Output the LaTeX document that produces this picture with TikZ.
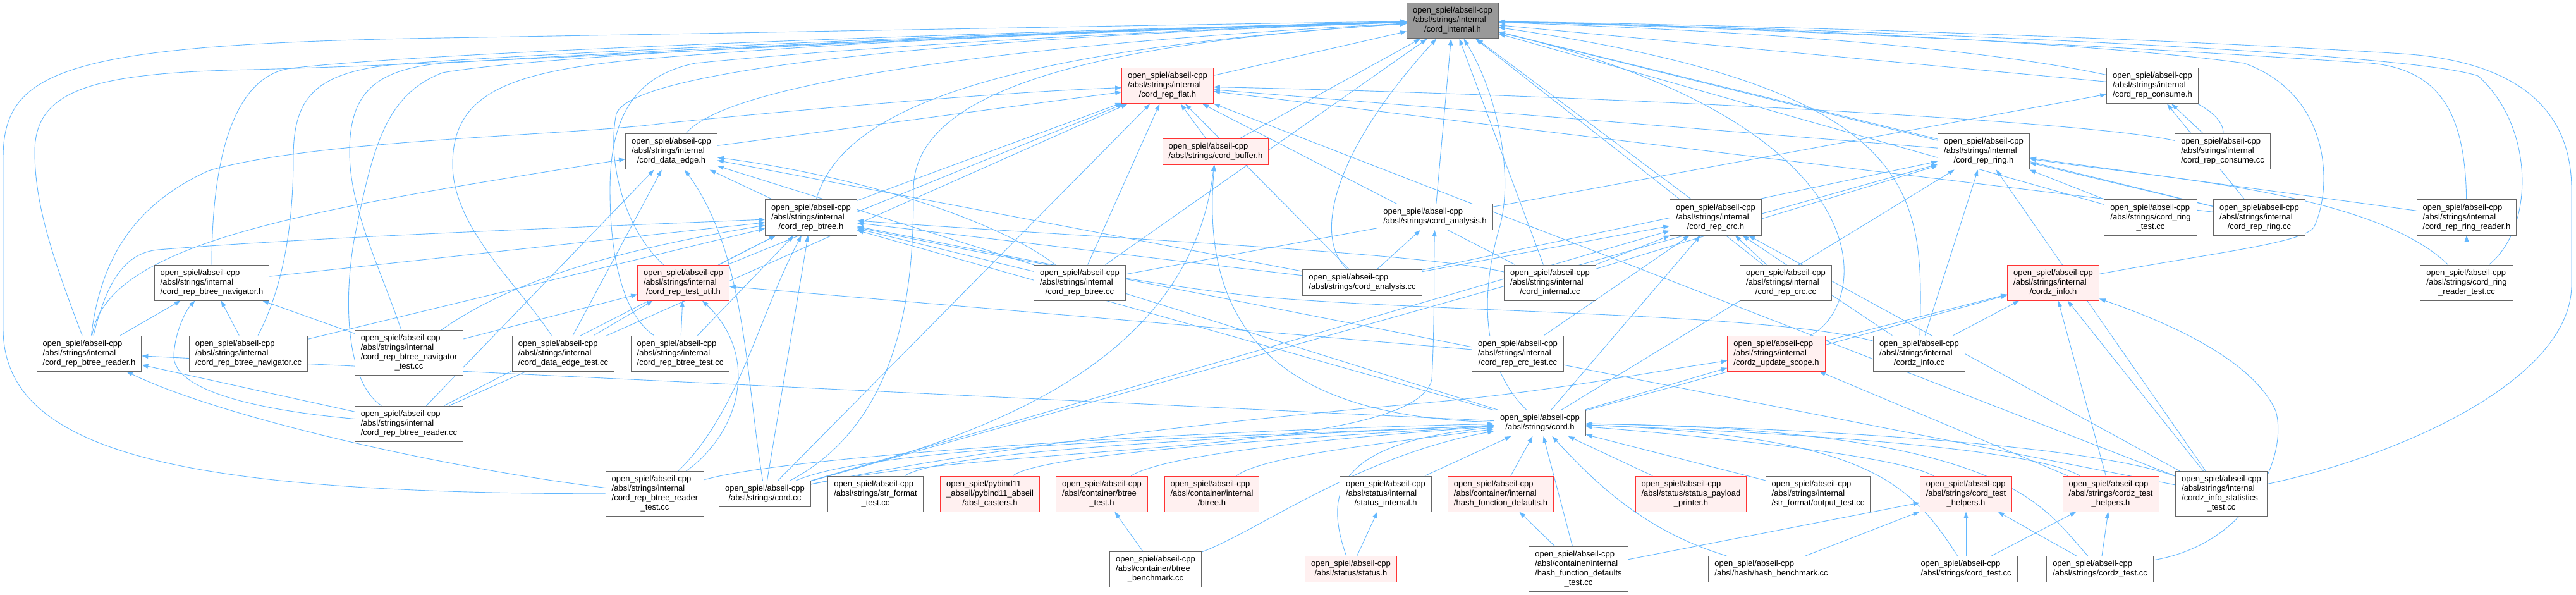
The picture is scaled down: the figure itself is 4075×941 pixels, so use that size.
\documentclass[tikz,border=0pt]{standalone}
\usepackage{fontspec}
\setmainfont{Liberation Sans}
\usetikzlibrary{arrows.meta}
\definecolor{azul}{HTML}{63B8FF}
\definecolor{borde}{HTML}{666666}
\definecolor{grismain}{HTML}{999999}
\definecolor{rojoclaro}{HTML}{FFF0F0}
\definecolor{rojoborde}{HTML}{FF3333}
\pgfdeclarelayer{fondo}
\pgfsetlayers{fondo,main}
\newcommand{\osa}{open\_spiel/abseil-cpp}
\newcommand{\asi}{/absl/strings/internal}
\newcommand{\lineas}[2]{\begin{tabular}{@{}l@{}}#1\\\multicolumn{1}{@{}c@{}}{#2}\end{tabular}}

\begin{document}
\begin{tikzpicture}[x=1pt, y=-1pt, font=\fontsize{13}{15}\selectfont,
  file/.style={draw=borde, fill=white, line width=1pt, inner xsep=9.5pt, inner ysep=5.5pt},
  redfile/.style={file, draw=rojoborde, fill=rojoclaro},
  mainfile/.style={file, fill=grismain},
  dep/.style={draw=azul, line width=0.9pt, -{Triangle[length=10pt,width=7pt]}}]
\useasboundingbox (0,0) rectangle (4075,941);
% Nodo principal
\node[mainfile] (cint) at (2298,33) {\lineas{\osa\\\asi}{/cord\_internal.h}};
% Fila 2
\node[redfile] (flat) at (1847,136) {\lineas{\osa\\\asi}{/cord\_rep\_flat.h}};
\node[file] (consh) at (3405,136) {\lineas{\osa\\\asi}{/cord\_rep\_consume.h}};
% Fila 3
\node[file] (dedge) at (1062,240) {\lineas{\osa\\\asi}{/cord\_data\_edge.h}};
\node[redfile] (buf) at (1923,240) {\lineas{\osa}{/absl/strings/cord\_buffer.h}};
\node[file] (ring) at (3138,240) {\lineas{\osa\\\asi}{/cord\_rep\_ring.h}};
\node[file] (conscc) at (3516,240) {\lineas{\osa\\\asi}{/cord\_rep\_consume.cc}};
% Fila 4
\node[file] (btree) at (1283,344) {\lineas{\osa\\\asi}{/cord\_rep\_btree.h}};
\node[file] (anah) at (2270,343) {\lineas{\osa}{/absl/strings/cord\_analysis.h}};
\node[file] (crch) at (2714,344) {\lineas{\osa\\\asi}{/cord\_rep\_crc.h}};
\node[file] (ringtest) at (3402,344) {\lineas{\osa\\/absl/strings/cord\_ring}{\_test.cc}};
\node[file] (ringcc) at (3574,344) {\lineas{\osa\\\asi}{/cord\_rep\_ring.cc}};
\node[file] (ringrd) at (3902,344) {\lineas{\osa\\\asi}{/cord\_rep\_ring\_reader.h}};
% Fila 5
\node[file] (navh) at (335,447) {\lineas{\osa\\\asi}{/cord\_rep\_btree\_navigator.h}};
\node[redfile] (testutil) at (1081,447) {\lineas{\osa\\\asi}{/cord\_rep\_test\_util.h}};
\node[file] (btreecc) at (1708,447) {\lineas{\osa\\\asi}{/cord\_rep\_btree.cc}};
\node[file] (anacc) at (2155,447) {\lineas{\osa}{/absl/strings/cord\_analysis.cc}};
\node[file] (intcc) at (2452,447) {\lineas{\osa\\\asi}{/cord\_internal.cc}};
\node[file] (crccc) at (2825,447) {\lineas{\osa\\\asi}{/cord\_rep\_crc.cc}};
\node[redfile] (zinfo) at (3248,447) {\lineas{\osa\\\asi}{/cordz\_info.h}};
\node[file] (ringrdtest) at (3902,447) {\lineas{\osa\\/absl/strings/cord\_ring}{\_reader\_test.cc}};
% Fila 6
\node[file] (rdh) at (141,559) {\lineas{\osa\\\asi}{/cord\_rep\_btree\_reader.h}};
\node[file] (navcc) at (393,559) {\lineas{\osa\\\asi}{/cord\_rep\_btree\_navigator.cc}};
\node[file] (navtest) at (647,558) {\lineas{\osa\\\asi\\/cord\_rep\_btree\_navigator}{\_test.cc}};
\node[file] (detest) at (891,559) {\lineas{\osa\\\asi}{/cord\_data\_edge\_test.cc}};
\node[file] (btreetest) at (1076,559) {\lineas{\osa\\\asi}{/cord\_rep\_btree\_test.cc}};
\node[file] (crctest) at (2401,559) {\lineas{\osa\\\asi}{/cord\_rep\_crc\_test.cc}};
\node[redfile] (zscope) at (2810,559) {\lineas{\osa\\\asi}{/cordz\_update\_scope.h}};
\node[file] (zinfocc) at (3036,559) {\lineas{\osa\\\asi}{/cordz\_info.cc}};
% Fila 7
\node[file] (rdcc) at (647,670) {\lineas{\osa\\\asi}{/cord\_rep\_btree\_reader.cc}};
\node[file] (cordh) at (2436,669) {\lineas{\osa}{/absl/strings/cord.h}};
% Fila 8
\node[file] (rdtest) at (1036,781) {\lineas{\osa\\\asi\\/cord\_rep\_btree\_reader}{\_test.cc}};
\node[file] (cordcc) at (1210,781) {\lineas{\osa}{/absl/strings/cord.cc}};
\node[file] (strfmt) at (1385,781) {\lineas{\osa\\/absl/strings/str\_format}{\_test.cc}};
\node[redfile] (casters) at (1566,781) {\lineas{open\_spiel/pybind11\\\_abseil/pybind11\_abseil}{/absl\_casters.h}};
\node[redfile] (btreetesth) at (1743,781) {\lineas{\osa\\/absl/container/btree}{\_test.h}};
\node[redfile] (btreeh) at (1917,781) {\lineas{\osa\\/absl/container/internal}{/btree.h}};
\node[file] (statint) at (2192,781) {\lineas{\osa\\/absl/status/internal}{/status\_internal.h}};
\node[redfile] (hashfd) at (2374,781) {\lineas{\osa\\/absl/container/internal}{/hash\_function\_defaults.h}};
\node[redfile] (payload) at (2675,781) {\lineas{\osa\\/absl/status/status\_payload}{\_printer.h}};
\node[file] (outtest) at (2876,781) {\lineas{\osa\\\asi}{/str\_format/output\_test.cc}};
\node[redfile] (thelp) at (3110,781) {\lineas{\osa\\/absl/strings/cord\_test}{\_helpers.h}};
\node[redfile] (zthelp) at (3339,781) {\lineas{\osa\\/absl/strings/cordz\_test}{\_helpers.h}};
\node[file] (zstat) at (3514,781) {\lineas{\osa\\\asi\\/cordz\_info\_statistics}{\_test.cc}};
% Fila 9
\node[file] (bench) at (1828,900) {\lineas{\osa\\/absl/container/btree}{\_benchmark.cc}};
\node[redfile] (status) at (2137,900) {\lineas{\osa}{/absl/status/status.h}};
\node[file] (hfdtest) at (2497,900) {\lineas{\osa\\/absl/container/internal\\/hash\_function\_defaults}{\_test.cc}};
\node[file] (hbench) at (2802,900) {\lineas{\osa}{/absl/hash/hash\_benchmark.cc}};
\node[file] (cordtest) at (3110,900) {\lineas{\osa}{/absl/strings/cord\_test.cc}};
\node[file] (zttest) at (3322,900) {\lineas{\osa}{/absl/strings/cordz\_test.cc}};

\begin{pgfonlayer}{fondo}
\fill[white] (0,0) rectangle (4075,941);
% hacia cord_internal.h
\draw[dep] (flat) -- (cint);
\draw[dep] (consh) -- (cint);
\draw[dep] (buf) -- (cint);
\draw[dep] (ring) -- (cint);
\draw[dep] (anah) -- (cint);
\draw[dep] (crch) -- (cint);
\draw[dep] (ringtest) -- (cint);
\draw[dep] (ringcc) -- (cint);
\draw[dep] (btreecc) -- (cint);
\draw[dep] (intcc) -- (cint);
\draw[dep] (crccc) -- (cint);
\draw[dep] (anacc) .. controls (2080,380) and (2100,250) .. (cint);
\draw[dep] (dedge) .. controls (1150,130) and (1600,70) .. (cint);
\draw[dep] (btree) .. controls (1330,180) and (1550,80) .. (cint);
\draw[dep] (conscc) .. controls (3520,120) and (3100,60) .. (cint);
\draw[dep] (testutil) .. controls (985,360) and (960,250) .. (975,180) .. controls (1000,110) and (1500,60) .. (cint);
\draw[dep] (btreetest) .. controls (990,500) and (965,420) .. (965,300) .. controls (965,190) and (1000,120) .. (1100,100) .. controls (1400,70) and (1900,45) .. (cint);
\draw[dep] (detest) .. controls (820,450) and (716,360) .. (716,260) .. controls (716,150) and (800,115) .. (1000,95) .. controls (1400,60) and (1900,45) .. (cint);
\draw[dep] (rdcc) .. controls (555,610) and (540,500) .. (560,380) .. controls (590,230) and (610,150) .. (700,115) .. controls (900,80) and (1800,45) .. (cint);
\draw[dep] (navtest) .. controls (600,420) and (553,330) .. (553,240) .. controls (553,150) and (590,110) .. (700,100) .. controls (1100,75) and (1800,45) .. (cint);
\draw[dep] (navcc) .. controls (440,470) and (464,380) .. (464,250) .. controls (464,150) and (500,110) .. (650,100) .. controls (1000,75) and (1800,45) .. (cint);
\draw[dep] (navh) .. controls (335,250) and (370,120) .. (460,108) .. controls (700,80) and (1600,50) .. (cint);
\draw[dep] (rdh) .. controls (80,400) and (55,320) .. (55,240) .. controls (55,140) and (150,115) .. (400,110) .. controls (800,100) and (1700,45) .. (cint);
\draw[dep] (rdtest) .. controls (300,780) and (5,720) .. (5,520) -- (5,250) .. controls (5,110) and (100,70) .. (700,60) .. controls (1300,50) and (1900,38) .. (cint);
\draw[dep] (cordcc) .. controls (1440,660) and (1445,420) .. (1445,300) .. controls (1445,150) and (1700,70) .. (cint);
\draw[dep] (cordh) .. controls (2345,580) and (2340,470) .. (2372,360) .. controls (2395,280) and (2370,150) .. (cint);
\draw[dep] (zscope) .. controls (2960,480) and (2990,200) .. (cint);
\draw[dep] (zinfocc) .. controls (3044,300) and (3040,140) .. (cint);
\draw[dep] (zinfo) .. controls (3500,400) and (3640,385) .. (3660,360) .. controls (3690,300) and (3690,150) .. (3550,100) .. controls (3300,65) and (2700,40) .. (cint);
\draw[dep] (ringrd) .. controls (3900,180) and (3860,110) .. (3750,100) .. controls (3300,70) and (2800,45) .. (cint);
\draw[dep] (ringrdtest) .. controls (4010,360) and (4010,200) .. (3920,120) .. controls (3800,80) and (2900,45) .. (cint);
\draw[dep] (zstat) .. controls (3800,720) and (4068,600) .. (4068,450) -- (4068,300) .. controls (4068,150) and (3950,95) .. (3800,85) .. controls (3400,60) and (2800,40) .. (cint);
% hacia cord_rep_flat.h
\draw[dep] (dedge) -- (flat);
\draw[dep] (buf) -- (flat);
\draw[dep] (btree) -- (flat);
\draw[dep] (testutil) -- (flat);
\draw[dep] (btreecc) -- (flat);
\draw[dep] (rdcc) -- (flat);
\draw[dep] (anacc) -- (flat);
\draw[dep] (intcc) -- (flat);
\draw[dep] (cordcc) -- (flat);
\draw[dep] (ring) -- (flat);
\draw[dep] (ringcc) -- (flat);
\draw[dep] (zstat) -- (flat);
\draw[dep] (conscc) .. controls (3300,190) and (2500,150) .. (flat);
\draw[dep] (rdh) .. controls (160,400) and (220,320) .. (330,270) .. controls (500,220) and (900,215) .. (1050,195) .. controls (1300,170) and (1600,145) .. (flat);
% hacia cord_data_edge.h
\draw[dep] (btree) -- (dedge);
\draw[dep] (anacc) -- (dedge);
\draw[dep] (rdcc) -- (dedge);
\draw[dep] (detest) -- (dedge);
\draw[dep] (cordh) -- (dedge);
\draw[dep] (btreecc) .. controls (1550,330) and (1300,270) .. (dedge);
\draw[dep] (cordcc) .. controls (1180,600) and (1180,400) .. (dedge);
\draw[dep] (rdh) .. controls (170,380) and (500,330) .. (dedge);
% hacia cord_rep_btree.h
\draw[dep] (navh) -- (btree);
\draw[dep] (testutil) -- (btree);
\draw[dep] (btreecc) -- (btree);
\draw[dep] (anacc) -- (btree);
\draw[dep] (navcc) -- (btree);
\draw[dep] (btreetest) -- (btree);
\draw[dep] (rdcc) -- (btree);
\draw[dep] (cordcc) -- (btree);
\draw[dep] (cordh) -- (btree);
\draw[dep] (zstat) -- (btree);
\draw[dep] (navtest) .. controls (800,450) and (950,400) .. (btree);
\draw[dep] (rdtest) .. controls (1170,650) and (1200,500) .. (btree);
\draw[dep] (intcc) .. controls (2250,400) and (1800,380) .. (btree);
\draw[dep] (zinfocc) .. controls (2800,495) and (2300,495) .. (2000,470) .. controls (1800,450) and (1500,390) .. (btree);
\draw[dep] (rdh) .. controls (170,440) and (200,400) .. (250,395) .. controls (500,375) and (900,360) .. (btree);
% hacia cord_rep_crc.h
\draw[dep] (anacc) -- (crch);
\draw[dep] (intcc) -- (crch);
\draw[dep] (crccc) -- (crch);
\draw[dep] (crctest) -- (crch);
\draw[dep] (zinfocc) -- (crch);
\draw[dep] (cordh) -- (crch);
\draw[dep] (cordcc) -- (crch);
\draw[dep] (zstat) -- (crch);
% hacia cord_rep_ring.h
\draw[dep] (anacc) -- (ring);
\draw[dep] (intcc) -- (ring);
\draw[dep] (ringtest) -- (ring);
\draw[dep] (ringcc) -- (ring);
\draw[dep] (ringrd) -- (ring);
\draw[dep] (zinfocc) -- (ring);
\draw[dep] (cordh) -- (ring);
\draw[dep] (cordcc) -- (ring);
\draw[dep] (zstat) -- (ring);
\draw[dep] (ringrdtest) .. controls (3750,300) and (3400,280) .. (ring);
% hacia cord_rep_consume.h y otros
\draw[dep] (btreecc) -- (consh);
\draw[dep] (ringcc) -- (consh);
\draw[dep] (conscc) -- (consh);
\draw[dep] (ringrdtest) -- (ringrd);
\draw[dep] (anacc) -- (anah);
\draw[dep] (cordcc) .. controls (1600,700) and (2240,720) .. (2265,600) .. controls (2270,500) and (2268,420) .. (anah);
\draw[dep] (cordh) .. controls (2000,660) and (1900,500) .. (buf);
\draw[dep] (cordcc) .. controls (1500,700) and (1880,600) .. (buf);
% hacia cord_rep_test_util.h
\draw[dep] (navtest) -- (testutil);
\draw[dep] (btreetest) -- (testutil);
\draw[dep] (detest) -- (testutil);
\draw[dep] (crctest) -- (testutil);
\draw[dep] (rdtest) .. controls (1175,680) and (1200,560) .. (testutil);
% hacia navigator y reader
\draw[dep] (rdh) -- (navh);
\draw[dep] (navcc) -- (navh);
\draw[dep] (navtest) -- (navh);
\draw[dep] (rdcc) .. controls (420,650) and (270,620) .. (275,560) .. controls (278,520) and (295,490) .. (navh);
\draw[dep] (rdcc) -- (rdh);
\draw[dep] (cordh) -- (rdh);
\draw[dep] (rdtest) .. controls (700,740) and (350,660) .. (rdh);
% hacia cordz_info.h y cordz_update_scope.h
\draw[dep] (zscope) -- (zinfo);
\draw[dep] (zinfocc) -- (zinfo);
\draw[dep] (cordh) -- (zinfo);
\draw[dep] (zthelp) -- (zinfo);
\draw[dep] (zstat) -- (zinfo);
\draw[dep] (zttest) .. controls (3560,860) and (3620,720) .. (3600,650) .. controls (3560,560) and (3400,500) .. (zinfo);
\draw[dep] (cordh) -- (zscope);
\draw[dep] (zthelp) -- (zscope);
\draw[dep] (cordcc) .. controls (1600,700) and (2000,660) .. (2245,638) .. controls (2450,620) and (2600,590) .. (zscope);
% hacia cord.h
\draw[dep] (cordcc) .. controls (1400,700) and (2000,690) .. (cordh);
\draw[dep] (rdtest) .. controls (1250,720) and (1900,680) .. (cordh);
\draw[dep] (strfmt) .. controls (1500,710) and (2000,690) .. (cordh);
\draw[dep] (casters) .. controls (1650,715) and (2100,690) .. (cordh);
\draw[dep] (btreetesth) .. controls (1850,715) and (2150,690) .. (cordh);
\draw[dep] (btreeh) .. controls (2000,720) and (2200,700) .. (cordh);
\draw[dep] (bench) .. controls (1990,840) and (2150,720) .. (cordh);
\draw[dep] (status) .. controls (2095,780) and (2110,700) .. (cordh);
\draw[dep] (statint) -- (cordh);
\draw[dep] (hashfd) -- (cordh);
\draw[dep] (hfdtest) -- (cordh);
\draw[dep] (hbench) .. controls (2600,840) and (2520,760) .. (cordh);
\draw[dep] (payload) -- (cordh);
\draw[dep] (outtest) -- (cordh);
\draw[dep] (thelp) .. controls (3000,720) and (2700,690) .. (cordh);
\draw[dep] (zthelp) .. controls (3200,700) and (2700,680) .. (cordh);
\draw[dep] (zstat) .. controls (3300,700) and (2800,675) .. (cordh);
\draw[dep] (cordtest) .. controls (3020,760) and (2950,690) .. (cordh);
\draw[dep] (zttest) .. controls (3230,800) and (3180,680) .. (cordh);
% fila inferior
\draw[dep] (status) -- (statint);
\draw[dep] (hfdtest) -- (hashfd);
\draw[dep] (bench) -- (btreetesth);
\draw[dep] (hfdtest) -- (thelp);
\draw[dep] (hbench) -- (thelp);
\draw[dep] (cordtest) -- (thelp);
\draw[dep] (zttest) -- (thelp);
\draw[dep] (cordtest) -- (zthelp);
\draw[dep] (zttest) -- (zthelp);
\end{pgfonlayer}
\end{tikzpicture}
\end{document}
